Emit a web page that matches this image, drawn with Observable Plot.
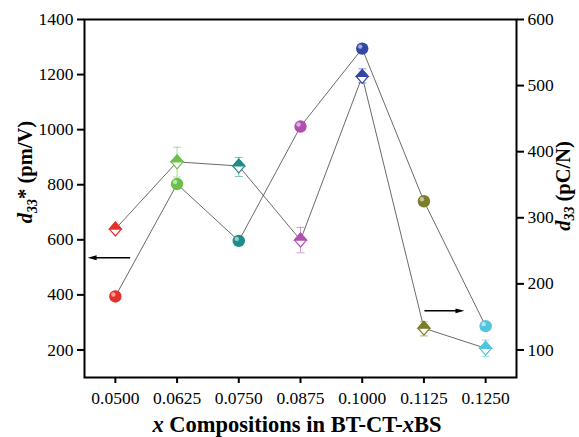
<!DOCTYPE html>
<html><head><meta charset="utf-8">
<script src="https://cdn.jsdelivr.net/npm/d3@7"></script>
<script src="https://cdn.jsdelivr.net/npm/@observablehq/plot@0.6"></script>
<style>body{margin:0;background:#fff}</style>
</head><body><div id="chart"></div>
<script>
// Data
const compositions = [0.05, 0.0625, 0.075, 0.0875, 0.1, 0.1125, 0.125];
const pointColors = ["#e8302a", "#6cc04a", "#1f8c8c", "#b04fb0", "#3348a6", "#7a7d2a", "#52c4dc"];
const d33Star = [639, 883, 868, 599, 1193, 279, 206];          // pm/V, left axis (diamonds)
const d33StarHigh = [650, 936, 899, 645, 1221, 302, 236];
const d33StarLow = [630, 828, 830, 553, 1170, 251, 176];
const d33 = [181, 351, 265, 438, 556, 325, 136];                 // pC/N, right axis (spheres)
const leftTicks = [200, 400, 600, 800, 1000, 1200, 1400];
const rightTicks = [100, 200, 300, 400, 500, 600];
const xTickLabels = ["0.0500", "0.0625", "0.0750", "0.0875", "0.1000", "0.1125", "0.1250"];
const arrowX1 = [0.0530, 0.1126];
const arrowX2 = [0.0453, 0.1198];
const arrowY = [535, 342];
const arrowDir = [180, 0];

const toLeft = r => 200 + (r - 100) * 2.4;
const fromLeft = l => 100 + (l - 200) / 2.4;

const rows = compositions.map((x, i) => ({
  x, col: pointColors[i], star: d33Star[i], hi: d33StarHigh[i], lo: d33StarLow[i], d33L: toLeft(d33[i])
}));
const arrows = arrowX1.map((x1, i) => ({x1, x2: arrowX2[i], y: arrowY[i], rot: arrowDir[i]}));

const diamond = {draw(ctx, size) { const s = Math.sqrt(size / Math.PI); const h = s * 1.15;
  ctx.moveTo(0, -h); ctx.lineTo(s, 0); ctx.lineTo(0, h); ctx.lineTo(-s, 0); ctx.closePath(); }};
const topTri = {draw(ctx, size) { const s = Math.sqrt(size / Math.PI); const h = s * 1.15;
  ctx.moveTo(0, -h); ctx.lineTo(s, 0); ctx.lineTo(-s, 0); ctx.closePath(); }};
const cap = {draw(ctx, size) { const s = Math.sqrt(size / Math.PI); ctx.moveTo(-s, 0); ctx.lineTo(s, 0); }};
const head = {draw(ctx, size) { const s = Math.sqrt(size / Math.PI);
  ctx.moveTo(s, 0); ctx.lineTo(-s, -s * 0.55); ctx.lineTo(-s, s * 0.55); ctx.closePath(); }};

const FONT = "'Liberation Serif', 'Times New Roman', serif";

const svg = Plot.plot({
  width: 579, height: 437,
  marginLeft: 84, marginRight: 63, marginTop: 19, marginBottom: 60,
  x: {domain: [0.04375, 0.13125]},
  y: {domain: [100, 1400]},
  style: {fontFamily: FONT, fontSize: "17.5px", color: "black", background: "white"},
  marks: [
    Plot.axisY({ticks: leftTicks, tickFormat: d => String(d), tickSize: 7, tickPadding: 4, strokeWidth: 2,
      fontSize: 17.5, label: null}),
    Plot.axisY({anchor: "right", ticks: rightTicks.map(toLeft), tickFormat: v => String(Math.round(fromLeft(v))),
      tickSize: 7, tickPadding: 4, strokeWidth: 2, fontSize: 17.5, label: null}),
    Plot.axisX({ticks: compositions, tickFormat: (d, i) => xTickLabels[i], tickSize: 6, tickPadding: 8,
      strokeWidth: 2, fontSize: 17.5, label: null}),
    Plot.line(rows, {x: "x", y: "d33L", stroke: "#444", strokeWidth: 0.8}),
    Plot.line(rows, {x: "x", y: "star", stroke: "#444", strokeWidth: 0.8}),
    Plot.ruleX(rows, {x: "x", y1: "lo", y2: "hi", stroke: "col", strokeOpacity: 0.55, strokeWidth: 1}),
    Plot.dot(rows, {x: "x", y: "hi", symbol: cap, r: 4, stroke: "col", strokeOpacity: 0.55, strokeWidth: 1}),
    Plot.dot(rows, {x: "x", y: "lo", symbol: cap, r: 4, stroke: "col", strokeOpacity: 0.55, strokeWidth: 1}),
    Plot.dot(rows, {x: "x", y: "star", symbol: diamond, r: 6, fill: "white", stroke: "col", strokeWidth: 1.2}),
    Plot.dot(rows, {x: "x", y: "star", symbol: topTri, r: 6, fill: "col", stroke: "col", strokeWidth: 1.2}),
    Plot.dot(rows, {x: "x", y: "d33L", r: 6.2, fill: "col"}),
    Plot.dot(rows, {x: "x", y: "d33L", r: 2.2, fill: "white", fillOpacity: 0.55, dx: -2, dy: -2}),
    Plot.link(arrows, {x1: "x1", x2: "x2", y1: "y", y2: "y", stroke: "black", strokeWidth: 1.5}),
    Plot.dot(arrows, {x: "x2", y: "y", symbol: head, r: 4.5, fill: "black", rotate: "rot"}),
    Plot.frame({stroke: "black", strokeWidth: 2})
  ]
});

const s = d3.select(svg);
s.selectAll("g[aria-label$='tick label'] text").style("font-size", "17.5px");
// left label
const lt = s.append("text").attr("transform", "translate(32,172) rotate(-90)")
  .attr("text-anchor", "middle").attr("font-weight", "bold").attr("font-size", 20.5).attr("fill", "black");
lt.append("tspan").attr("font-style", "italic").text("d");
lt.append("tspan").attr("font-style", "italic").attr("font-size", 14).attr("dy", 5).text("33");
lt.append("tspan").attr("dy", -5).text("* (pm/V)");
// right label
const rt = s.append("text").attr("transform", "translate(570,186) rotate(-90)")
  .attr("text-anchor", "middle").attr("font-weight", "bold").attr("font-size", 20.5).attr("fill", "black");
rt.append("tspan").attr("font-style", "italic").text("d");
rt.append("tspan").attr("font-style", "italic").attr("font-size", 14).attr("dy", 4).text("33");
rt.append("tspan").attr("dy", -4).text(" (pC/N)");
// x label
const xt = s.append("text").attr("transform", "translate(297,432)")
  .attr("text-anchor", "middle").attr("font-weight", "bold").attr("font-size", 22.5).attr("fill", "black");
xt.append("tspan").attr("font-style", "italic").text("x");
xt.append("tspan").text(" Compositions in BT-CT-");
xt.append("tspan").attr("font-style", "italic").text("x");
xt.append("tspan").text("BS");

s.selectAll("text").style("font-family", FONT);

document.getElementById("chart").appendChild(svg);
</script>
</body></html>
